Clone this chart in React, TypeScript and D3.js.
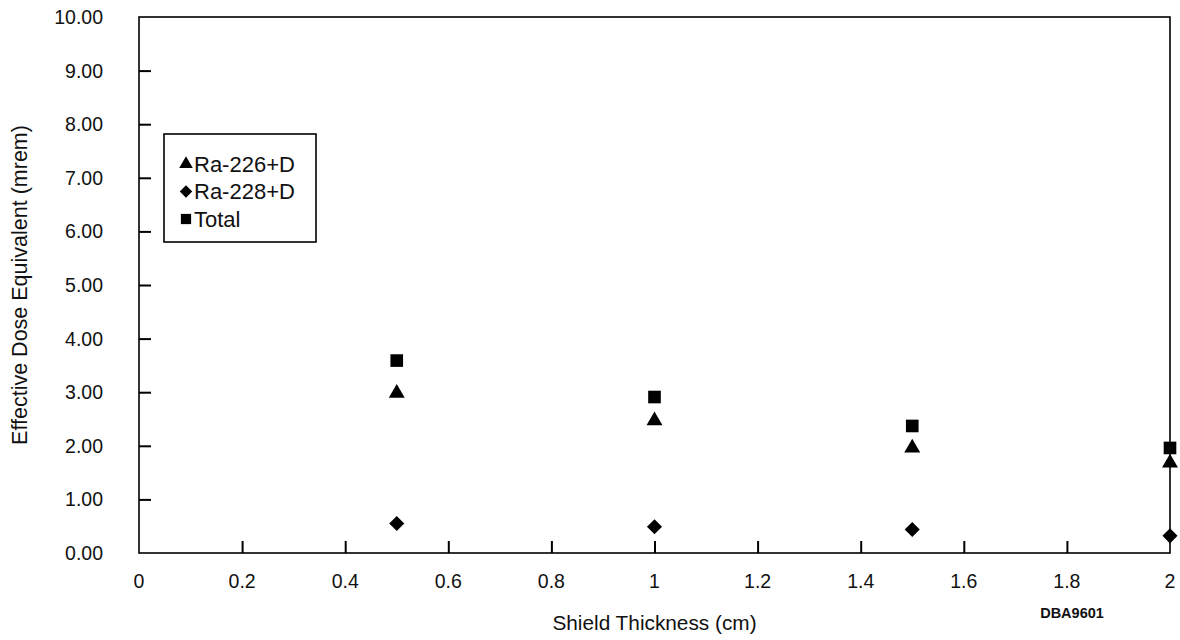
import React, { useEffect, useRef } from 'react';
import * as d3 from 'd3';

// shield thickness (cm)
const thickness = [0.5, 1, 1.5, 2];
// effective dose equivalent (mrem)
const ra226 = [2.98, 2.47, 1.96, 1.68];
const ra228 = [0.55, 0.49, 0.44, 0.32];
const total = [3.59, 2.91, 2.37, 1.96];

const xTicks = [0, 0.2, 0.4, 0.6, 0.8, 1, 1.2, 1.4, 1.6, 1.8, 2];
const yTicks = [0, 1, 2, 3, 4, 5, 6, 7, 8, 9, 10];

const seriesNames = ['Ra-226+D', 'Ra-228+D', 'Total'];

const FONT = '"Liberation Sans", Arial, Helvetica, sans-serif';

const App: React.FC = () => {
  const svgRef = useRef<SVGSVGElement>(null);

  useEffect(() => {
    if (!svgRef.current) return;
    const svg = d3.select(svgRef.current);
    svg.selectAll('*').remove();

    const width = 1180;
    const height = 640;
    const margin = { top: 17, right: 10, bottom: 87, left: 139 };
    const x0 = margin.left;
    const x1 = 1170;
    const y0 = height - margin.bottom; // 553
    const y1 = margin.top;

    svg.append('rect').attr('width', width).attr('height', height).attr('fill', 'white');

    const xScale = d3.scaleLinear().domain([0, 2]).range([x0, x1]);
    const yScale = d3.scaleLinear().domain([0, 10]).range([y0, y1]);

    // frame
    svg.append('rect')
      .attr('x', x0).attr('y', y1)
      .attr('width', x1 - x0).attr('height', y0 - y1)
      .attr('fill', 'none').attr('stroke', '#000').attr('stroke-width', 1.6);

    // y axis: ticks point inward
    const yAxis = svg.append('g')
      .attr('transform', `translate(${x0},0)`)
      .call(d3.axisRight(yScale)
        .tickValues(yTicks.filter(v => v > 0 && v < 10))
        .tickSize(12)
        .tickFormat(() => ''));
    yAxis.select('.domain').remove();
    yAxis.selectAll('line').attr('stroke', '#000').attr('stroke-width', 2);

    svg.append('g')
      .selectAll('text')
      .data(yTicks)
      .join('text')
      .attr('x', 103)
      .attr('y', d => yScale(d))
      .attr('dy', '0.36em')
      .attr('text-anchor', 'end')
      .style('font-family', FONT)
      .style('font-size', '19.5px')
      .attr('fill', '#111')
      .text(d => d3.format('.2f')(d));

    // x axis: ticks point inward
    const xAxis = svg.append('g')
      .attr('transform', `translate(0,${y0})`)
      .call(d3.axisTop(xScale)
        .tickValues(xTicks.filter(v => v > 0 && v < 2))
        .tickSize(12)
        .tickFormat(() => ''));
    xAxis.select('.domain').remove();
    xAxis.selectAll('line').attr('stroke', '#000').attr('stroke-width', 2);

    svg.append('g')
      .selectAll('text')
      .data(xTicks)
      .join('text')
      .attr('x', d => xScale(d))
      .attr('y', 588)
      .attr('text-anchor', 'middle')
      .style('font-family', FONT)
      .style('font-size', '19.5px')
      .attr('fill', '#111')
      .text(d => String(d));

    // axis titles
    svg.append('text')
      .attr('transform', `translate(27,${(y0 + y1) / 2}) rotate(-90)`)
      .attr('text-anchor', 'middle')
      .style('font-family', FONT)
      .style('font-size', '21.5px')
      .attr('fill', '#111')
      .text('Effective Dose Equivalent (mrem)');

    svg.append('text')
      .attr('x', (x0 + x1) / 2)
      .attr('y', 630)
      .attr('text-anchor', 'middle')
      .style('font-family', FONT)
      .style('font-size', '20.8px')
      .attr('fill', '#111')
      .text('Shield Thickness (cm)');

    svg.append('text')
      .attr('x', 1072)
      .attr('y', 618)
      .attr('text-anchor', 'middle')
      .style('font-family', FONT)
      .style('font-size', '14.5px')
      .style('font-weight', 'bold')
      .attr('fill', '#111')
      .text('DBA9601');

    // markers
    const shapes = [
      d3.symbol().type(d3.symbolTriangle).size(110),
      d3.symbol().type(d3.symbolDiamond2).size(145),
      d3.symbol().type(d3.symbolSquare).size(160)
    ];
    const values = [ra226, ra228, total];

    values.forEach((vals, i) => {
      svg.append('g')
        .selectAll('path')
        .data(vals)
        .join('path')
        .attr('transform', (d, j) => `translate(${xScale(thickness[j])},${yScale(d)})`)
        .attr('d', shapes[i]() as string)
        .attr('fill', '#000');
    });

    // legend
    const legend = svg.append('g').attr('transform', 'translate(164,134)');
    legend.append('rect')
      .attr('width', 152).attr('height', 108)
      .attr('fill', 'white').attr('stroke', '#000').attr('stroke-width', 1.6);

    const legendShapes = [
      d3.symbol().type(d3.symbolTriangle).size(80),
      d3.symbol().type(d3.symbolDiamond2).size(100),
      d3.symbol().type(d3.symbolSquare).size(105)
    ];
    seriesNames.forEach((name, i) => {
      const cy = 30 + i * 27.5;
      legend.append('path')
        .attr('transform', `translate(22,${cy})`)
        .attr('d', legendShapes[i]() as string)
        .attr('fill', '#000');
      legend.append('text')
        .attr('x', 30)
        .attr('y', cy)
        .attr('dy', '0.36em')
        .style('font-family', FONT)
        .style('font-size', '22px')
        .attr('fill', '#111')
        .text(name);
    });
  }, []);

  return (
    <div style={{ position: 'fixed', left: 0, top: 0, width: 1180, height: 640, overflow: 'hidden' }}>
      <svg ref={svgRef} width={1180} height={640} style={{ display: 'block' }} />
    </div>
  );
};

export default App;
